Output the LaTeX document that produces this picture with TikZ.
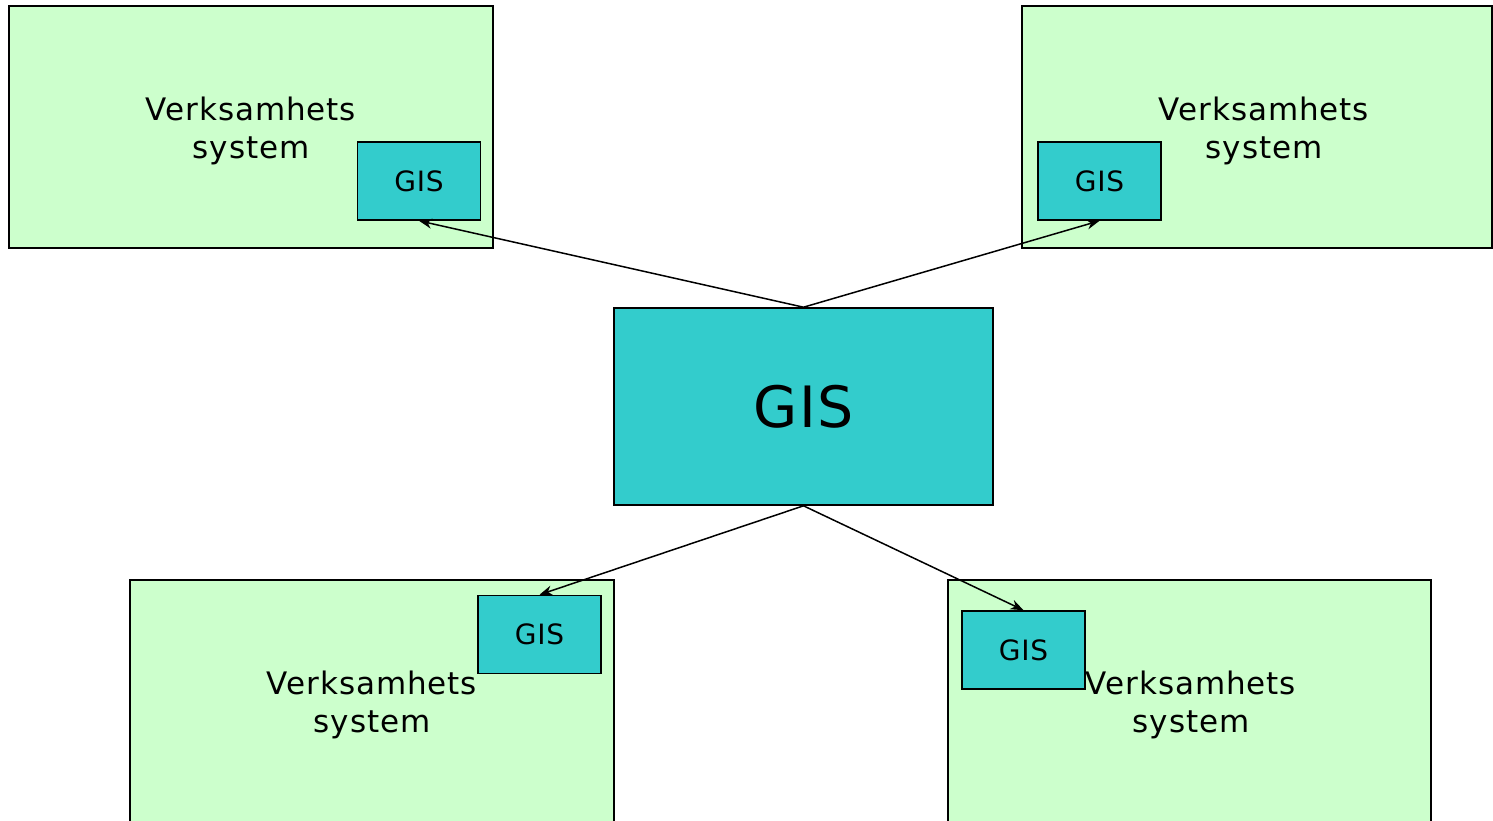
\documentclass[tikz,border=0pt]{standalone}
\usepackage{fontspec}
\setmainfont{DejaVu Sans}
\newfontfamily\lsfont[LetterSpace=3]{DejaVu Sans}
\usetikzlibrary{arrows.meta}
\definecolor{sysgreen}{HTML}{CCFFCC}
\definecolor{gisteal}{HTML}{33CCCC}
\tikzset{
  sysbox/.style={draw=black, line width=1.6pt, fill=sysgreen, rectangle, inner sep=0pt},
  gisbox/.style={draw=black, line width=1.6pt, fill=gisteal, rectangle, inner sep=0pt,
    minimum width=123pt, minimum height=78pt, font=\lsfont\fontsize{28}{30}\selectfont},
  systext/.style={align=center, inner sep=0pt, font=\lsfont\fontsize{31}{38}\selectfont},
  link/.style={draw=black, line width=1.5pt, -{Stealth[length=13pt,width=10pt]}}
}
\begin{document}
\begin{tikzpicture}[x=1pt,y=-1pt]
\useasboundingbox (0,0) rectangle (1493,820);
\fill[white] (0,0) rectangle (1493,820);
% system boxes
\node[sysbox, minimum width=484pt, minimum height=242pt] (tl) at (251,127) {};
\node[sysbox, minimum width=470pt, minimum height=242pt] (tr) at (1257,127) {};
\node[sysbox, minimum width=484pt, minimum height=260pt] (bl) at (372,710) {};
\node[sysbox, minimum width=483pt, minimum height=260pt] (br) at (1189.5,710) {};
% system texts
\node[systext] (tlt) at (251,131) {Verksamhets\\system};
\node[systext] (trt) at (1264,131) {Verksamhets\\system};
% small GIS boxes
\node[gisbox] (tlg) at (419,181) {GIS};
\node[gisbox] (trg) at (1099.5,181) {GIS};
\node[gisbox] (blg) at (539.5,634.5) {GIS};
\node[gisbox] (brg) at (1023.5,650) {GIS};
\node[systext] (blt) at (372,705) {Verksamhets\\system};
\node[systext] (brt) at (1191,705) {Verksamhets\\system};
% central GIS
\node[draw=black, line width=1.6pt, fill=gisteal, minimum width=379pt, minimum height=197pt,
  inner sep=0pt, font=\lsfont\fontsize{57}{60}\selectfont] (c) at (803.5,406.5) {GIS};
% links
\draw[link] (c.north) -- (tlg.south);
\draw[link] (c.north) -- (trg.south);
\draw[link] (c.south) -- (blg.north);
\draw[link] (c.south) -- (brg.north);
\end{tikzpicture}
\end{document}
